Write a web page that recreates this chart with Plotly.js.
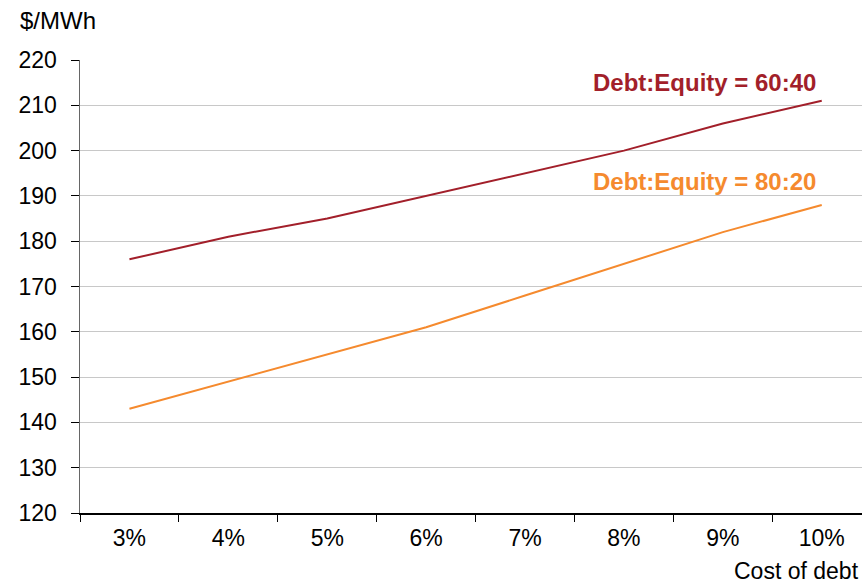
<!DOCTYPE html>
<html>
<head>
<meta charset="utf-8">
<script src="https://cdn.plot.ly/plotly-3.0.1.min.js"></script>
<style>html,body{margin:0;padding:0;background:#fff;}#chart{width:863px;height:584px;}</style>
</head>
<body>
<div id="chart"></div>
<script>
const categories = ["3%","4%","5%","6%","7%","8%","9%","10%"];
const equity6040 = [176,181,185,190,195,200,206,211];
const equity8020 = [143,149,155,161,168,175,182,188];
const seriesNames = ["Debt:Equity = 60:40","Debt:Equity = 80:20"];
const yTicks = [120,130,140,150,160,170,180,190,200,210,220];

const red = "#A21F2A", orange = "#F58A2E";
const font = "Liberation Sans, Arial, sans-serif";

const traces = [
  {x: categories, y: equity6040, type: "scatter", mode: "lines", name: seriesNames[0], line: {color: red, width: 2}},
  {x: categories, y: equity8020, type: "scatter", mode: "lines", name: seriesNames[1], line: {color: orange, width: 2}}
];

const layout = {
  width: 863, height: 584,
  margin: {l: 80, r: 1, t: 60, b: 71},
  showlegend: false,
  paper_bgcolor: "#fff", plot_bgcolor: "#fff",
  font: {family: font, size: 24, color: "#000"},
  xaxis: {
    type: "category", range: [-0.5, 7.407],
    showgrid: false, zeroline: false,
    showline: true, linecolor: "#000", linewidth: 1.5,
    ticks: "outside", tickson: "boundaries", ticklen: 7, tickcolor: "#000",
    ticklabelstandoff: 4,
    tickfont: {family: font, size: 23, color: "#000"}
  },
  yaxis: {
    range: [120, 220], tickvals: yTicks,
    showgrid: true, gridcolor: "#c8c8c8", gridwidth: 1,
    zeroline: false, showline: true, linecolor: "#666", linewidth: 1.5,
    ticks: "outside", ticklen: 8, tickcolor: "#000",
    ticklabelstandoff: 9,
    tickfont: {family: font, size: 23, color: "#000"}
  },
  annotations: [
    {text: "$/MWh", xref: "paper", yref: "paper", x: -0.079, y: 1.088, xanchor: "left", yanchor: "middle", showarrow: false, font: {family: font, size: 24, color: "#000"}},
    {text: "Cost of debt", xref: "paper", yref: "paper", x: 0.9985, y: -0.127, xanchor: "right", yanchor: "middle", showarrow: false, font: {family: font, size: 23, color: "#000"}},
    {text: "<b>" + seriesNames[0] + "</b>", xref: "paper", yref: "y", x: 0.799, y: 215.1, xanchor: "center", yanchor: "middle", showarrow: false, font: {family: font, size: 24, color: red}},
    {text: "<b>" + seriesNames[1] + "</b>", xref: "paper", yref: "y", x: 0.799, y: 193.1, xanchor: "center", yanchor: "middle", showarrow: false, font: {family: font, size: 24, color: orange}}
  ]
};

Plotly.newPlot("chart", traces, layout, {displayModeBar: false, staticPlot: true});
</script>
</body>
</html>
